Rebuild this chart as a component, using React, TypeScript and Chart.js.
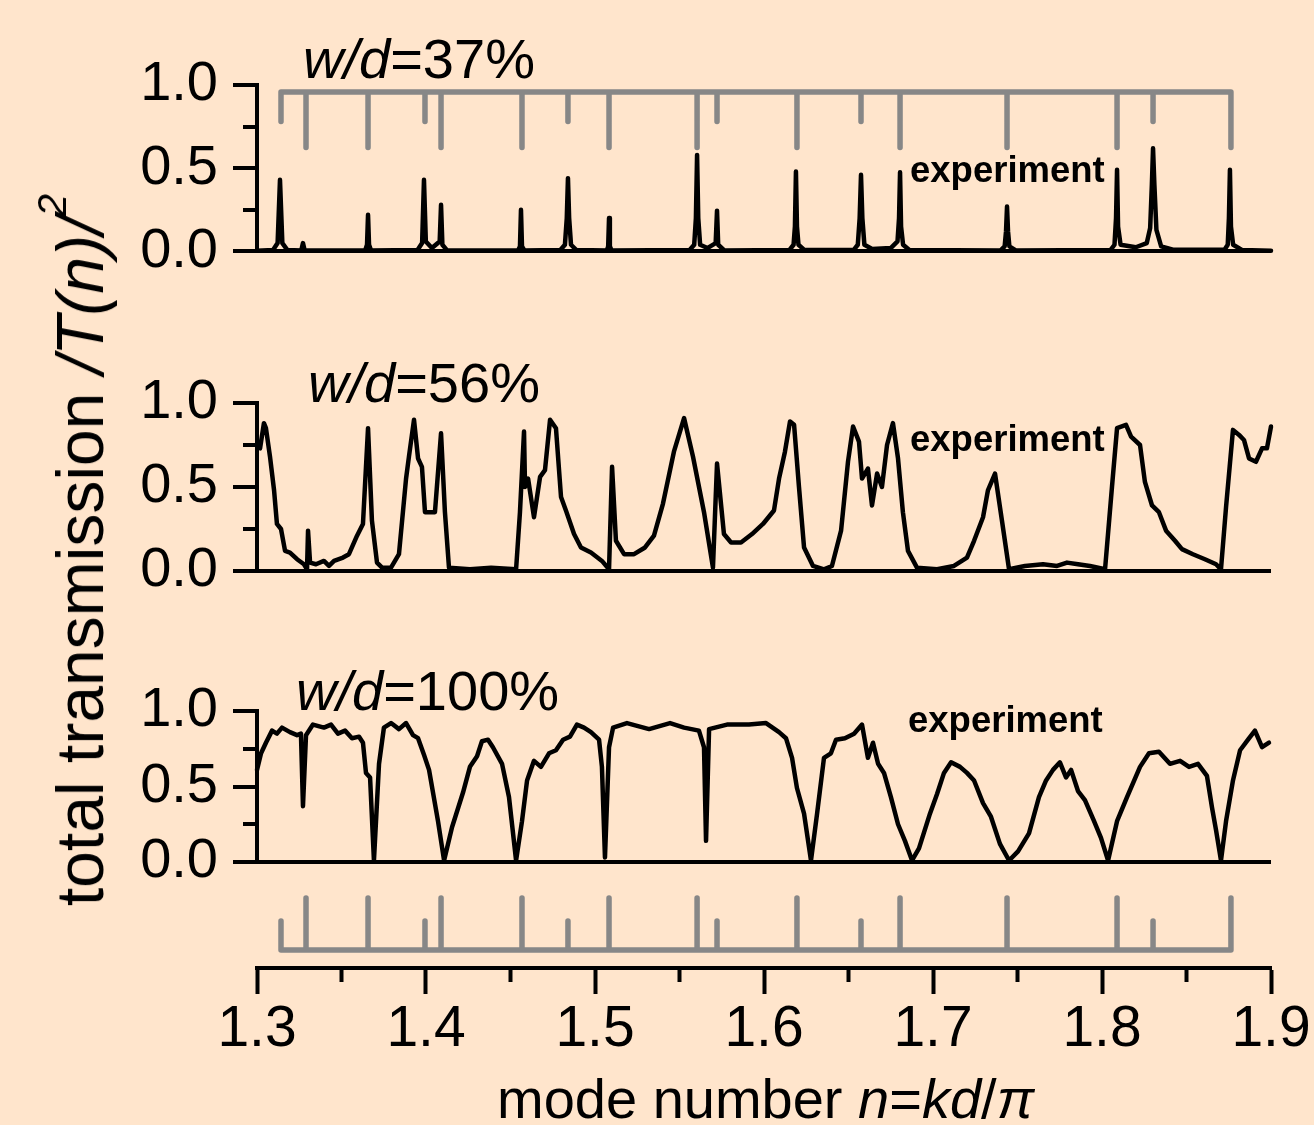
import React, { useEffect, useRef } from 'react';
import { Chart, registerables } from 'chart.js';

Chart.register(...registerables);

const FONT = '"Liberation Sans", Arial, Helvetica, sans-serif';
const BG = '#FFE5CC';
const GRAY = '#878787';
const INK = '#000000';

// ---- axes ----
const xMin = 1.3;
const xMax = 1.9;
const xTickValues = [1.3, 1.35, 1.4, 1.45, 1.5, 1.55, 1.6, 1.65, 1.7, 1.75, 1.8, 1.85, 1.9];
const xTickLabels = ['1.3', '', '1.4', '', '1.5', '', '1.6', '', '1.7', '', '1.8', '', '1.9'];
const yTickValues = [0, 0.25, 0.5, 0.75, 1];
const yTickLabels = ['0.0', '', '0.5', '', '1.0'];

// ---- mode comb (gray markers) ----
const combModes = [1.3142, 1.329, 1.3657, 1.3994, 1.4089, 1.4568, 1.484, 1.5083, 1.5604, 1.5722, 1.6195, 1.6574, 1.6805, 1.7438, 1.8089, 1.8302, 1.8763];
const combIsLong = [false, true, true, false, true, true, false, true, true, false, true, false, true, true, true, false, true];

// ---- panel labels ----
const panelRatios = ['37%', '56%', '100%'];

// ---- measured transmission, w/d = 37% : [n, |T|^2] ----
const exp37: [number, number][] = [
  [1.3, 0.004],
  [1.3095, 0.008], [1.3122, 0.05], [1.3136, 0.43], [1.315, 0.05], [1.318, 0.008],
  [1.3262, 0.006], [1.3272, 0.05], [1.3282, 0.006],
  [1.364, 0.006], [1.3651, 0.04], [1.3657, 0.22], [1.3663, 0.04], [1.3675, 0.006],
  [1.395, 0.008], [1.3977, 0.05], [1.3988, 0.43], [1.3999, 0.06], [1.4035, 0.02], [1.4081, 0.06], [1.4089, 0.28], [1.4097, 0.04], [1.4125, 0.006],
  [1.4545, 0.006], [1.4556, 0.03], [1.4562, 0.25], [1.4568, 0.03], [1.4582, 0.006],
  [1.4795, 0.008], [1.4822, 0.04], [1.4833, 0.2], [1.484, 0.44], [1.4847, 0.2], [1.4858, 0.04], [1.489, 0.008],
  [1.507, 0.006], [1.5078, 0.03], [1.5083, 0.2], [1.5088, 0.03], [1.5098, 0.006],
  [1.556, 0.008], [1.5587, 0.04], [1.5597, 0.2], [1.5604, 0.58], [1.5611, 0.2], [1.5622, 0.04], [1.5665, 0.02], [1.5714, 0.05], [1.5722, 0.245], [1.5729, 0.04], [1.5765, 0.006],
  [1.615, 0.008], [1.6175, 0.04], [1.6183, 0.15], [1.6189, 0.48], [1.6195, 0.15], [1.6204, 0.04], [1.624, 0.008],
  [1.653, 0.008], [1.6555, 0.04], [1.6566, 0.2], [1.6574, 0.46], [1.6582, 0.2], [1.6594, 0.04], [1.664, 0.015],
  [1.675, 0.02], [1.679, 0.06], [1.6799, 0.2], [1.6805, 0.475], [1.6811, 0.15], [1.6823, 0.04], [1.686, 0.008],
  [1.74, 0.006], [1.7424, 0.03], [1.7432, 0.12], [1.7438, 0.27], [1.7444, 0.12], [1.7452, 0.03], [1.749, 0.006],
  [1.805, 0.008], [1.8074, 0.04], [1.8083, 0.2], [1.8089, 0.49], [1.8095, 0.15], [1.811, 0.04], [1.82, 0.025],
  [1.8265, 0.05], [1.8285, 0.14], [1.8295, 0.4], [1.8302, 0.62], [1.831, 0.4], [1.8322, 0.13], [1.835, 0.03], [1.842, 0.01],
  [1.8725, 0.01], [1.8744, 0.04], [1.8751, 0.2], [1.8757, 0.49], [1.8763, 0.15], [1.8776, 0.04], [1.883, 0.008],
  [1.9, 0.004],
];

// ---- measured transmission, w/d = 56% ----
const exp56: [number, number][] = [
  [1.3018, 0.73], [1.3041, 0.88], [1.3053, 0.85], [1.3077, 0.68], [1.3101, 0.48], [1.3118, 0.28], [1.3142, 0.25],
  [1.3166, 0.12], [1.3195, 0.11], [1.3237, 0.07], [1.3278, 0.04], [1.3296, 0.01], [1.3302, 0.24], [1.3314, 0.05],
  [1.3349, 0.04], [1.3396, 0.06], [1.3426, 0.03], [1.3456, 0.06], [1.3509, 0.08], [1.3544, 0.1], [1.3592, 0.21],
  [1.3627, 0.28], [1.3657, 0.85], [1.368, 0.3], [1.371, 0.05], [1.374, 0.02], [1.3793, 0.02], [1.384, 0.1],
  [1.3882, 0.55], [1.3899, 0.68], [1.3929, 0.9], [1.3953, 0.67], [1.3976, 0.62], [1.3994, 0.35], [1.403, 0.35],
  [1.4053, 0.35], [1.4089, 0.82], [1.4112, 0.35], [1.4136, 0.02], [1.426, 0.01], [1.4385, 0.02], [1.4533, 0.01],
  [1.4556, 0.35], [1.458, 0.83], [1.4586, 0.5], [1.4604, 0.55], [1.4639, 0.32], [1.4675, 0.56], [1.4704, 0.6],
  [1.4734, 0.9], [1.4769, 0.85], [1.4799, 0.44], [1.4828, 0.36], [1.4876, 0.22], [1.4917, 0.14], [1.4976, 0.11],
  [1.5041, 0.06], [1.5083, 0.01], [1.5101, 0.62], [1.5124, 0.18], [1.5172, 0.1], [1.5231, 0.1], [1.5296, 0.14],
  [1.5349, 0.21], [1.5402, 0.4], [1.5467, 0.71], [1.5527, 0.91], [1.558, 0.68], [1.5645, 0.35], [1.5698, 0.02],
  [1.5722, 0.64], [1.5763, 0.22], [1.5805, 0.17], [1.5864, 0.17], [1.5929, 0.22], [1.5994, 0.28], [1.6059, 0.36],
  [1.6089, 0.55], [1.6124, 0.71], [1.6154, 0.89], [1.6178, 0.87], [1.6207, 0.5], [1.6237, 0.14], [1.629, 0.03],
  [1.6355, 0.01], [1.6402, 0.03], [1.6456, 0.24], [1.6497, 0.65], [1.6527, 0.86], [1.6562, 0.77], [1.658, 0.55],
  [1.6615, 0.61], [1.6639, 0.39], [1.6669, 0.58], [1.6698, 0.5], [1.6728, 0.75], [1.6763, 0.88], [1.6793, 0.67],
  [1.6822, 0.35], [1.6852, 0.12], [1.6905, 0.02], [1.7024, 0.01], [1.7124, 0.03], [1.7201, 0.08], [1.7243, 0.18],
  [1.7296, 0.32], [1.7325, 0.48], [1.7367, 0.58], [1.7408, 0.3], [1.745, 0.01], [1.7544, 0.03], [1.7651, 0.04],
  [1.7734, 0.03], [1.7793, 0.05], [1.7858, 0.04], [1.7929, 0.03], [1.8018, 0.01], [1.8059, 0.5], [1.8089, 0.85],
  [1.8142, 0.87], [1.8172, 0.8], [1.8225, 0.75], [1.8254, 0.53], [1.8296, 0.39], [1.8337, 0.35], [1.8379, 0.24],
  [1.8432, 0.18], [1.8473, 0.13], [1.8538, 0.1], [1.8609, 0.07], [1.8675, 0.04], [1.8704, 0.01], [1.8734, 0.38],
  [1.8775, 0.84], [1.8811, 0.81], [1.884, 0.78], [1.887, 0.67], [1.8911, 0.65], [1.8947, 0.73], [1.8976, 0.73],
  [1.9, 0.86], [1.9018, 0.87],
];

// ---- measured transmission, w/d = 100% ----
const exp100: [number, number][] = [
  [1.3, 0.61], [1.3024, 0.72], [1.3053, 0.79], [1.3089, 0.87], [1.3118, 0.85], [1.3148, 0.89], [1.3195, 0.86],
  [1.3237, 0.84], [1.326, 0.85], [1.3272, 0.37], [1.329, 0.84], [1.3331, 0.91], [1.3396, 0.89], [1.3438, 0.91],
  [1.3479, 0.85], [1.3521, 0.87], [1.3562, 0.82], [1.3604, 0.83], [1.3627, 0.79], [1.3645, 0.59], [1.3669, 0.56],
  [1.3692, 0.01], [1.3722, 0.65], [1.3751, 0.89], [1.3793, 0.92], [1.384, 0.88], [1.3882, 0.92], [1.3923, 0.84],
  [1.3953, 0.82], [1.3988, 0.71], [1.4018, 0.61], [1.4071, 0.27], [1.4107, 0.01], [1.4154, 0.23], [1.4219, 0.46],
  [1.426, 0.63], [1.4302, 0.7], [1.4331, 0.8], [1.4367, 0.81], [1.4396, 0.76], [1.445, 0.65], [1.4491, 0.43],
  [1.4533, 0.01], [1.4568, 0.27], [1.4598, 0.54], [1.4639, 0.67], [1.468, 0.63], [1.4728, 0.72], [1.4769, 0.74],
  [1.4811, 0.81], [1.4852, 0.83], [1.4893, 0.91], [1.4935, 0.89], [1.4976, 0.86], [1.5024, 0.81], [1.5041, 0.63],
  [1.5059, 0.03], [1.5083, 0.76], [1.5107, 0.89], [1.5189, 0.92], [1.532, 0.88], [1.5444, 0.92], [1.5527, 0.89],
  [1.5615, 0.87], [1.5645, 0.76], [1.5657, 0.14], [1.5675, 0.88], [1.5781, 0.91], [1.5911, 0.91], [1.6012, 0.92],
  [1.6089, 0.86], [1.613, 0.82], [1.6166, 0.69], [1.6195, 0.49], [1.6237, 0.32], [1.6278, 0.01], [1.6314, 0.32],
  [1.6355, 0.69], [1.6396, 0.72], [1.6426, 0.81], [1.6479, 0.82], [1.6533, 0.85], [1.658, 0.91], [1.6615, 0.69],
  [1.6645, 0.79], [1.6675, 0.65], [1.671, 0.59], [1.6751, 0.43], [1.6793, 0.25], [1.6834, 0.14], [1.6876, 0.01],
  [1.6917, 0.09], [1.6982, 0.32], [1.7024, 0.45], [1.7065, 0.59], [1.7107, 0.66], [1.716, 0.63], [1.7201, 0.59],
  [1.7243, 0.54], [1.7296, 0.39], [1.7343, 0.3], [1.7396, 0.12], [1.745, 0.01], [1.7503, 0.07], [1.7568, 0.19],
  [1.7627, 0.43], [1.7669, 0.54], [1.771, 0.61], [1.7751, 0.66], [1.7787, 0.56], [1.7817, 0.61], [1.7858, 0.47],
  [1.7899, 0.41], [1.7953, 0.27], [1.7994, 0.16], [1.8036, 0.01], [1.8089, 0.27], [1.8148, 0.43], [1.8225, 0.63],
  [1.8278, 0.72], [1.8337, 0.73], [1.8402, 0.65], [1.8462, 0.67], [1.8515, 0.63], [1.8568, 0.65], [1.8621, 0.57],
  [1.8651, 0.36], [1.8675, 0.21], [1.8704, 0.01], [1.8734, 0.27], [1.8775, 0.54], [1.8817, 0.74], [1.8864, 0.81],
  [1.8905, 0.87], [1.8947, 0.76], [1.8988, 0.79],
];

// ---- layout (page pixels) ----
const PAGE_W = 1314;
const PAGE_H = 1125;
const PLOT_LEFT = 257;
const PLOT_RIGHT = 1271;
const TRACE_W = 4.5;
const AXIS_W = 4;
const COMB_W = 5.5;

type CombSpec = { base: number; long: number; short: number };

interface PanelSpec {
  top: number;
  height: number;
  areaTop: number;
  areaBottom: number;
  series: [number, number][];
  comb: CombSpec | null;
  xAxisLevel: number | null;
}

const panels: PanelSpec[] = [
  { top: 0, height: 300, areaTop: 85, areaBottom: 253, series: exp37, comb: { base: 0.958, long: 0.625, short: 0.78 }, xAxisLevel: null },
  { top: 300, height: 320, areaTop: 403, areaBottom: 571, series: exp56, comb: null, xAxisLevel: null },
  { top: 620, height: 505, areaTop: 711, areaBottom: 862, series: exp100, comb: { base: -0.583, long: -0.238, short: -0.391 }, xAxisLevel: -0.702 },
];

function combPoints(c: CombSpec) {
  const pts: { x: number; y: number }[] = [];
  combModes.forEach((n, i) => {
    pts.push({ x: n, y: c.base });
    pts.push({ x: n, y: combIsLong[i] ? c.long : c.short });
    pts.push({ x: n, y: c.base });
  });
  return pts;
}

function buildConfig(spec: PanelSpec): any {
  const datasets: any[] = [
    {
      data: spec.series.map(([x, y]) => ({ x, y })),
      borderColor: INK,
      borderWidth: TRACE_W,
      pointRadius: 0,
      tension: 0,
      fill: false,
      clip: false,
      borderJoinStyle: 'round',
      borderCapStyle: 'round',
    },
  ];
  if (spec.comb) {
    datasets.push({
      data: combPoints(spec.comb),
      borderColor: GRAY,
      borderWidth: COMB_W,
      pointRadius: 0,
      tension: 0,
      fill: false,
      clip: false,
      borderJoinStyle: 'round',
      borderCapStyle: 'round',
    });
  }

  const xScale: any =
    spec.xAxisLevel === null
      ? { type: 'linear', axis: 'x', min: xMin, max: xMax, display: false }
      : {
          type: 'linear',
          axis: 'x',
          min: xMin,
          max: xMax,
          position: { y: spec.xAxisLevel },
          afterBuildTicks: (s: any) => {
            s.ticks = xTickValues.map((v) => ({ value: v }));
          },
          afterFit: (s: any) => {
            s.paddingLeft = 0;
            s.paddingRight = 0;
          },
          ticks: {
            autoSkip: false,
            maxRotation: 0,
            minRotation: 0,
            color: INK,
            padding: 4,
            font: { family: FONT, size: 57 },
            callback: (_v: any, i: number) => xTickLabels[i],
          },
          grid: {
            drawOnChartArea: false,
            drawTicks: true,
            tickLength: 24,
            tickWidth: AXIS_W,
            tickColor: INK,
            tickBorderDash: (c: any) => (xTickLabels[c.index] === '' ? [12, 200] : []),
          },
          border: { display: true, color: INK, width: AXIS_W },
        };

  const yScale: any = {
    type: 'linear',
    position: 'left',
    min: 0,
    max: 1,
    afterFit: (s: any) => {
      s.width = PLOT_LEFT;
    },
    afterBuildTicks: (s: any) => {
      s.ticks = yTickValues.map((v) => ({ value: v }));
    },
    ticks: {
      autoSkip: false,
      color: INK,
      padding: 15,
      font: { family: FONT, size: 56 },
      callback: (_v: any, i: number) => yTickLabels[i],
    },
    grid: {
      drawOnChartArea: true,
      drawTicks: true,
      tickLength: 24,
      tickWidth: AXIS_W,
      tickColor: INK,
      lineWidth: AXIS_W,
      color: (c: any) => (c.index === 0 ? INK : 'rgba(0,0,0,0)'),
      tickBorderDash: (c: any) => (yTickLabels[c.index] === '' ? [0, 10, 14, 200] : []),
    },
    border: { display: true, color: INK, width: AXIS_W },
  };

  return {
    type: 'line',
    data: { datasets },
    options: {
      responsive: false,
      maintainAspectRatio: false,
      animation: false,
      devicePixelRatio: 1,
      events: [],
      layout: {
        padding: {
          left: 0,
          right: PAGE_W - PLOT_RIGHT,
          top: spec.areaTop - spec.top,
          bottom: spec.height - (spec.areaBottom - spec.top),
        },
      },
      plugins: { legend: { display: false }, tooltip: { enabled: false }, title: { display: false } },
      scales: { x: xScale, y: yScale },
    },
  };
}

function PanelChart({ spec }: { spec: PanelSpec }) {
  const ref = useRef<HTMLCanvasElement>(null);
  useEffect(() => {
    if (!ref.current) return;
    const chart = new Chart(ref.current, buildConfig(spec));
    return () => chart.destroy();
  }, [spec]);
  return (
    <canvas
      ref={ref}
      width={PAGE_W}
      height={spec.height}
      style={{ position: 'absolute', left: 0, top: spec.top, width: PAGE_W, height: spec.height, display: 'block' }}
    />
  );
}

const txt = (left: number, top: number, size: number, extra: React.CSSProperties = {}): React.CSSProperties => ({
  position: 'absolute',
  left,
  top,
  fontSize: size,
  lineHeight: 1,
  whiteSpace: 'nowrap',
  fontFamily: FONT,
  color: INK,
  ...extra,
});

const titleSpots = [
  { left: 303, baseline: 78 },
  { left: 308, baseline: 402 },
  { left: 296, baseline: 710 },
];
const expSpots = [
  { left: 910, baseline: 183 },
  { left: 910, baseline: 452 },
  { left: 908, baseline: 733 },
];

export default function App() {
  useEffect(() => {
    document.body.style.margin = '0';
    document.body.style.background = BG;
  }, []);
  const tSize = 56;
  const eSize = 36.5;
  return (
    <div style={{ position: 'relative', width: PAGE_W, height: PAGE_H, background: BG, overflow: 'hidden' }}>
      {panels.map((p, i) => (
        <PanelChart key={i} spec={p} />
      ))}
      {titleSpots.map((s, i) => (
        <div key={'t' + i} style={txt(s.left, s.baseline - 0.8465 * tSize, tSize)}>
          <i>w/d</i>={panelRatios[i]}
        </div>
      ))}
      {expSpots.map((s, i) => (
        <div key={'e' + i} style={txt(s.left, s.baseline - 0.8465 * eSize, eSize, { fontWeight: 'bold' })}>
          experiment
        </div>
      ))}
      <div
        style={txt(80, 550, 66, {
          transform: 'translate(-50%, -50%) rotate(-90deg)',
        })}
      >
        total transmission <i>/T(n)/</i>
        <sup style={{ fontSize: '0.62em', lineHeight: 0, verticalAlign: '0.9em' }}>
          <i>2</i>
        </sup>
      </div>
      <div style={txt(497, 1118 - 0.8465 * 56, 56)}>
        mode number <i>n</i>=<i>kd</i>/<i>π</i>
      </div>
    </div>
  );
}
